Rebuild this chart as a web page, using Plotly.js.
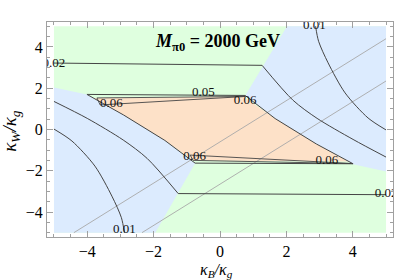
<!DOCTYPE html>
<html><head><meta charset="utf-8">
<script src="https://cdn.plot.ly/plotly-3.0.1.min.js"></script>
<style>body{margin:0;background:#fff}#chart{width:415px;height:280px}</style>
</head><body><div id="chart"></div>
<script>
// ---- data (axis units) ----
const regionBox_x = [-5, 5, 5, -5];
const regionBox_y = [-5, -5, 5, 5];
const blueLeft_x = [-5, -4.007, -2.9, -1.66, -0.75, -1.95, -5];
const blueLeft_y = [2.04, 1.70, 0.70, -0.53, -1.63, -5, -5];
const blueRight_x = [2.02, 0.757, 1.66, 2.9, 4.007, 5, 5];
const blueRight_y = [5, 1.63, 0.53, -0.70, -1.68, -2.04, 5];
const orange_x = [-3.82, 0.70, 1.66, 2.9, 3.86, -0.81, -1.66, -2.9];
const orange_y = [1.53, 1.60, 0.53, -0.70, -1.545, -1.50, -0.53, 0.70];

// contour 0.05 (closed quadrilateral)
const c05_x = [-4.007, 0.757, 1.66, 2.9, 4.007, -0.75, -1.66, -2.9, -4.007];
const c05_y = [1.70, 1.65, 0.53, -0.70, -1.66, -1.63, -0.53, 0.70, 1.70];
// contour 0.06 (two thin slivers)
const c06a_x = [-3.706, 0.757, -3.61, -3.706];
const c06a_y = [1.53, 1.60, 1.19, 1.53];
const c06b_x = [-0.898, 4.007, -0.808, -0.898];
const c06b_y = [-1.24, -1.652, -1.497, -1.24];
// contour 0.02
const c02a_x = [-5, 1.268, 2.201, 2.924, 4.007, 5];
const c02a_y = [3.22, 3.11, 1.414, 0.54, -0.481, -1.336];
const c02b_x = [5, -1.259, -2.192, -2.915, -3.998, -5];
const c02b_y = [-3.16, -3.105, -1.404, -0.51, 0.539, 1.36];
// contour 0.01
const c01a_x = [2.879, 2.969, 3.255, 3.767, 4.459, 5];
const c01a_y = [5, 4.276, 3.231, 1.774, 0.559, -0.02];
const c01b_x = [-2.879, -2.969, -3.255, -3.767, -4.459, -5];
const c01b_y = [-5, -4.276, -3.231, -1.774, -0.559, 0.02];
// thin straight guide lines
const g1_x = [-4.4, 5];
const g1_y = [-5, 4.4];
const g2_x = [-2.35, 5];
const g2_y = [-5, 2.35];
// contour labels
const lab_text = ['0.05', '0.06', '0.06', '0.06', '0.06', '0.02', '0.02', '0.01', '0.01'];
const lab_x = [-0.50, -3.275, 0.757, -0.763, 3.215, -5, 5, 2.84, -2.88];
const lab_y = [1.77, 1.24, 1.385, -1.31, -1.516, 3.21, -3.10, 5.02, -4.88];
const xTicks = [-4, -2, 0, 2, 4];
const yTicks = [-4, -2, 0, 2, 4];

const GREEN = '#dfffdf', BLUE = '#dcebfe', ORANGE = '#fde1c8';
const CLINE = '#454545', GLINE = '#a8a8a8';

function poly(x, y, color) {
  return {x: x, y: y, type: 'scatter', mode: 'lines', fill: 'toself', fillcolor: color,
          line: {width: 0, color: color}, hoverinfo: 'skip'};
}
function ln(x, y, color, w, shape) {
  return {x: x, y: y, type: 'scatter', mode: 'lines',
          line: {color: color, width: w, shape: shape || 'linear', smoothing: 0.8}, hoverinfo: 'skip'};
}
const traces = [
  poly(regionBox_x, regionBox_y, GREEN),
  poly(blueLeft_x, blueLeft_y, BLUE),
  poly(blueRight_x, blueRight_y, BLUE),
  poly(orange_x, orange_y, ORANGE),
  ln(g1_x, g1_y, GLINE, 0.9),
  ln(g2_x, g2_y, GLINE, 0.9),
  ln(c05_x, c05_y, CLINE, 1),
  ln(c06a_x, c06a_y, CLINE, 0.9),
  ln(c06b_x, c06b_y, CLINE, 0.9),
  ln(c02a_x.slice(1), c02a_y.slice(1), CLINE, 1, 'spline'),
  ln(c02a_x.slice(0, 2), c02a_y.slice(0, 2), CLINE, 1),
  ln(c02b_x.slice(1), c02b_y.slice(1), CLINE, 1, 'spline'),
  ln(c02b_x.slice(0, 2), c02b_y.slice(0, 2), CLINE, 1),
  ln(c01a_x, c01a_y, CLINE, 1, 'spline'),
  ln(c01b_x, c01b_y, CLINE, 1, 'spline'),
  {x: lab_x, y: lab_y, text: lab_text, type: 'scatter', mode: 'text',
   textfont: {family: 'Liberation Serif', size: 13, color: '#111'}, hoverinfo: 'skip', cliponaxis: true}
];

const axisCommon = {
  range: [-5.21, 5.21], showgrid: false, zeroline: false,
  showline: true, linecolor: '#a0a0a0', linewidth: 1, mirror: 'ticks',
  ticks: 'inside', ticklen: 6, tickcolor: '#a0a0a0', tickwidth: 1,
  minor: {dtick: 0.5, ticks: 'inside', ticklen: 3, tickcolor: '#a0a0a0', tickwidth: 1, showgrid: false},
  tickfont: {family: 'Liberation Serif', size: 16, color: '#000'},
  fixedrange: true
};
const layout = {
  width: 415, height: 280,
  margin: {l: 47, r: 22, t: 22, b: 43},
  paper_bgcolor: '#fff', plot_bgcolor: '#fff', showlegend: false,
  xaxis: Object.assign({}, axisCommon, {tickvals: xTicks}),
  yaxis: Object.assign({}, axisCommon, {tickvals: yTicks}),
  annotations: [
    {text: '<b><i>M</i><sub>π0</sub> = 2000 GeV</b>', xref: 'paper', yref: 'paper',
     x: 0.494, y: 0.906, xanchor: 'center', yanchor: 'middle', showarrow: false,
     font: {family: 'Liberation Serif', size: 18, color: '#000'}},
    {text: 'κ<sub>B</sub>/κ<sub>g</sub>', xref: 'paper', yref: 'paper',
     x: 0.491, y: -0.158, xanchor: 'center', yanchor: 'middle', showarrow: false,
     font: {family: 'Liberation Serif', size: 16, color: '#000', style: 'italic'}},
    {text: 'κ<sub>W</sub>/κ<sub>g</sub>', xref: 'paper', yref: 'paper',
     x: -0.104, y: 0.494, xanchor: 'center', yanchor: 'middle', showarrow: false, textangle: -90,
     font: {family: 'Liberation Serif', size: 19, color: '#000', style: 'italic'}}
  ]
};
Plotly.newPlot('chart', traces, layout, {staticPlot: true, displayModeBar: false});
</script></body></html>
